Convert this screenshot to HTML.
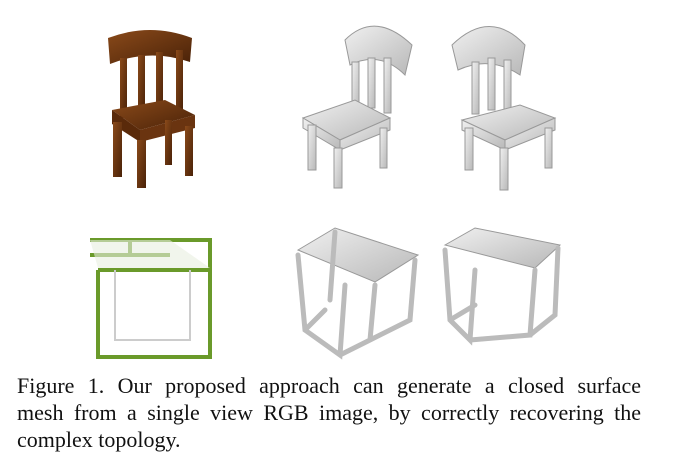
<!DOCTYPE html><html><head><style>
body{margin:0;width:675px;height:469px;background:#fff;overflow:hidden;position:relative}
.cap{position:absolute;left:17px;top:372px;width:624px;font:22px/27px "Liberation Serif",serif;color:#111}
.j{text-align:justify;text-align-last:justify;white-space:nowrap}
</style></head><body>
<svg width="675" height="370" style="position:absolute;left:0;top:0">
<defs>
<linearGradient id="g" x1="0" y1="0" x2="1" y2="1"><stop offset="0" stop-color="#f0f0f0"/><stop offset="1" stop-color="#b8b8b8"/></linearGradient>
<linearGradient id="b" x1="0" y1="0" x2="1" y2="1"><stop offset="0" stop-color="#8a4a1a"/><stop offset="1" stop-color="#4a2208"/></linearGradient>
</defs>
<g fill="url(#b)">
<path d="M108 38 Q150 22 192 38 L190 62 Q150 48 110 64Z"/>
<rect x="120" y="58" width="7" height="60"/><rect x="138" y="55" width="7" height="60"/><rect x="156" y="52" width="7" height="60"/><rect x="176" y="50" width="7" height="62"/>
<path d="M112 110 L165 100 L195 115 L140 130Z"/>
<path d="M112 110 L140 130 L140 142 L112 124Z" fill="#5a2a0a"/>
<path d="M140 130 L195 115 L195 128 L140 142Z" fill="#6a3410"/>
<rect x="113" y="122" width="9" height="55"/><rect x="137" y="140" width="9" height="48"/><rect x="185" y="126" width="8" height="50"/><rect x="165" y="120" width="7" height="45"/>
</g>
<g fill="url(#g)" stroke="#999" stroke-width="1">
<path d="M345 40 Q375 10 412 45 L405 75 Q380 50 350 65Z"/>
<rect x="352" y="62" width="7" height="50"/><rect x="368" y="58" width="7" height="50"/><rect x="384" y="58" width="7" height="55"/>
<path d="M303 118 L355 100 L390 118 L340 140Z"/>
<path d="M303 118 L340 140 L340 150 L303 128Z"/><path d="M340 140 L390 118 L390 130 L340 150Z"/>
<rect x="308" y="125" width="8" height="45"/><rect x="334" y="148" width="8" height="40"/><rect x="380" y="128" width="7" height="40"/>
<path d="M452 45 Q490 8 525 45 L520 75 Q490 55 458 70Z"/>
<rect x="472" y="62" width="7" height="52"/><rect x="488" y="58" width="7" height="52"/><rect x="504" y="60" width="7" height="55"/>
<path d="M462 120 L520 105 L555 118 L505 140Z"/>
<path d="M462 120 L505 140 L505 150 L462 130Z"/><path d="M505 140 L555 118 L555 130 L505 150Z"/>
<rect x="465" y="128" width="8" height="42"/><rect x="500" y="148" width="8" height="42"/><rect x="545" y="128" width="7" height="40"/>
</g>
<g fill="none" stroke="#6a9a2a" stroke-width="4">
<path d="M90 240 L210 240 L210 357 L98 357 L98 270"/>
<path d="M90 255 L170 255 M130 240 L130 255 M98 270 L210 270"/>
</g>
<g fill="none" stroke="#ccc" stroke-width="2"><path d="M115 270 L115 340 L190 340 L190 270"/></g>
<path d="M90 240 L170 240 L210 268 L98 268Z" fill="#e8efe0" opacity=".6"/>
<g fill="url(#g)" stroke="#999" stroke-width="1">
<path d="M298 250 L335 228 L418 255 L375 282Z"/>
<path d="M445 245 L475 228 L560 245 L535 268Z"/>
</g>
<g fill="none" stroke="#bbb" stroke-width="5" stroke-linecap="round">
<path d="M298 255 L305 330 L340 355 L345 285 M375 285 L370 340 L340 355 M415 260 L410 320 L370 340 M305 330 L325 310 M335 232 L330 300"/>
<path d="M445 250 L450 320 L470 340 L475 270 M535 270 L530 335 L470 340 M558 248 L555 315 L530 335 M450 320 L475 305"/>
</g>
</svg>
<div class="cap"><div class="j">Figure 1. Our proposed approach can generate a closed surface</div><div class="j">mesh from a single view RGB image, by correctly recovering the</div><div>complex topology.</div></div>
</body></html>
